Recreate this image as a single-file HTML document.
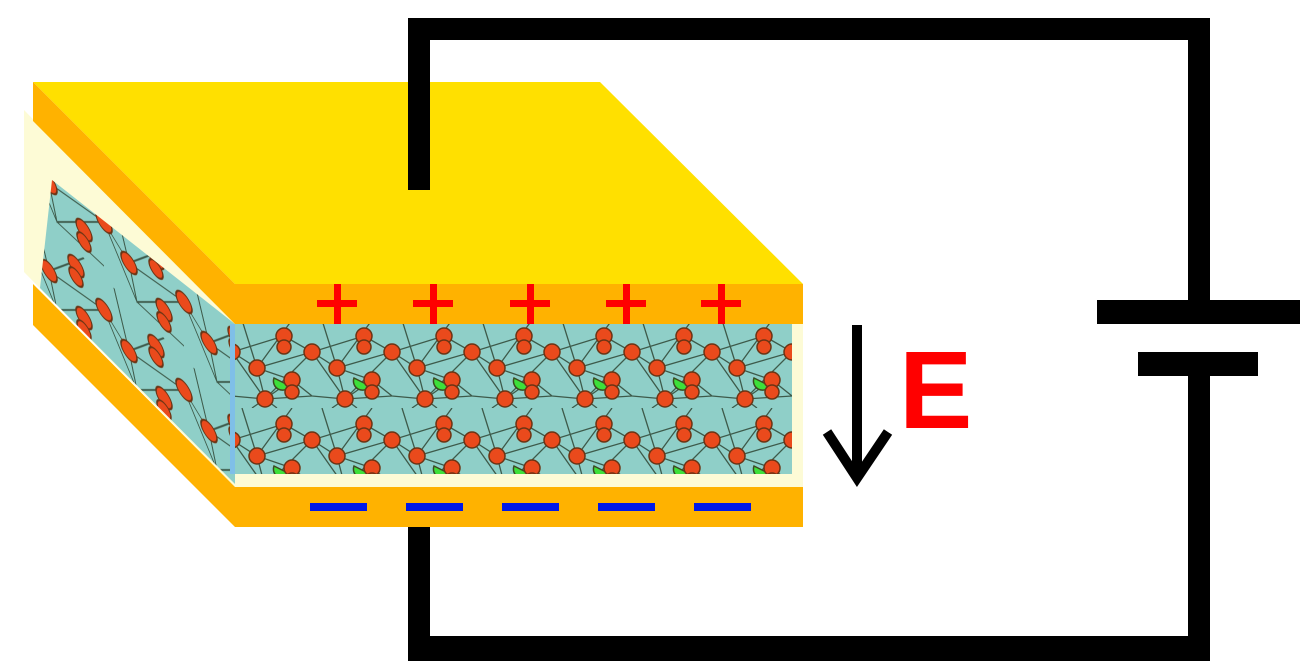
<!DOCTYPE html>
<html><head><meta charset="utf-8"><style>
html,body{margin:0;padding:0;background:#fff;width:1300px;height:661px;overflow:hidden}
</style></head><body>
<svg width="1300" height="661" viewBox="0 0 1300 661" xmlns="http://www.w3.org/2000/svg">
<defs>
<pattern id="lat" x="232" y="320" width="80" height="88" patternUnits="userSpaceOnUse">
  <rect width="80" height="88" fill="#8fcfc8"/>
  <g stroke="#3d5a4a" stroke-width="1.3" fill="none">
    <path d="M0,32 L25,48 L80,32 M25,48 L33,79 L80,32 M25,48 L0,32 M33,79 L0,32 M33,79 L80,76 M0,76 L33,79 M25,48 L10,0 M25,48 L60,0 M33,79 L45,88 M33,79 L20,88"/>
    <path d="M52,16 L80,32 M52,16 L0,32 M60,60 L80,76 M60,60 L33,79 M60,60 L25,48"/>
  </g>
  <path d="M42,58 a9,9 0 0 0 16,8 z" fill="#3de03a" stroke="#3a4a20" stroke-width="1.5"/>
  <g fill="#ea4a1c" stroke="#6b3414" stroke-width="1.5">
    <circle cx="80" cy="32" r="8"/><circle cx="0" cy="32" r="8"/>
    <circle cx="52" cy="16" r="8"/><circle cx="52" cy="27" r="7"/>
    <circle cx="25" cy="48" r="8"/>
    <circle cx="33" cy="79" r="8"/><circle cx="60" cy="60" r="8"/><circle cx="60" cy="72" r="7"/>
  </g>
</pattern>
<pattern id="lat2" x="0" y="0" width="80" height="88" patternUnits="userSpaceOnUse" patternTransform="translate(24,110) skewY(45)">
  <rect width="80" height="88" fill="#8fcfc8"/>
  <g stroke="#3d5a4a" stroke-width="1.3" fill="none">
    <path d="M0,32 L25,48 L80,32 M25,48 L33,79 L80,32 M33,79 L0,32 M33,79 L80,76 M25,48 L10,0 M25,48 L60,0"/>
  </g>
  <g fill="#ea4a1c" stroke="#6b3414" stroke-width="1.5">
    <circle cx="80" cy="32" r="8"/><circle cx="0" cy="32" r="8"/>
    <circle cx="52" cy="16" r="8"/><circle cx="52" cy="27" r="7"/>
    <circle cx="25" cy="48" r="8"/><circle cx="60" cy="60" r="8"/><circle cx="60" cy="72" r="7"/>
  </g>
</pattern>
</defs>

<polygon points="24,110 235,324 235,487 24,272" fill="#fdfbd6"/>
<polygon points="52,180 235,324 235,484 40,288" fill="url(#lat2)"/>
<rect x="235" y="324" width="568" height="163" fill="#fdfbd6"/>
<rect x="232" y="324" width="560" height="150" fill="url(#lat)"/>
<rect x="230" y="324" width="5" height="150" fill="#7fbfe8"/>

<polygon points="33,284 235,487 235,527 33,325" fill="#ffb200"/>
<rect x="235" y="487" width="568" height="40" fill="#ffb200"/>

<polygon points="33,82 600,82 803,284 235,284" fill="#ffe000"/>
<polygon points="33,82 235,284 235,324 33,121" fill="#ffb200"/>
<rect x="235" y="284" width="568" height="40" fill="#ffb200"/>

<g fill="#ff0000">
  <rect x="317" y="300" width="40" height="7"/><rect x="334" y="284" width="7" height="40"/>
  <rect x="413" y="300" width="40" height="7"/><rect x="430" y="284" width="7" height="40"/>
  <rect x="510" y="300" width="40" height="7"/><rect x="527" y="284" width="7" height="40"/>
  <rect x="606" y="300" width="40" height="7"/><rect x="623" y="284" width="7" height="40"/>
  <rect x="701" y="300" width="40" height="7"/><rect x="718" y="284" width="7" height="40"/>
</g>
<g fill="#0018e8">
  <rect x="310" y="503" width="57" height="8"/>
  <rect x="406" y="503" width="57" height="8"/>
  <rect x="502" y="503" width="57" height="8"/>
  <rect x="598" y="503" width="57" height="8"/>
  <rect x="694" y="503" width="57" height="8"/>
</g>

<g fill="#000">
  <rect x="408" y="18" width="22" height="172"/>
  <rect x="408" y="18" width="802" height="22"/>
  <rect x="1188" y="18" width="22" height="290"/>
  <rect x="1097" y="300" width="203" height="24"/>
  <rect x="1138" y="352" width="120" height="24"/>
  <rect x="1188" y="370" width="22" height="291"/>
  <rect x="408" y="636" width="802" height="25"/>
  <rect x="408" y="527" width="22" height="134"/>
</g>

<line x1="857" y1="325" x2="857" y2="478" stroke="#000" stroke-width="10"/>
<polyline points="827,432 857,478 888,432" fill="none" stroke="#000" stroke-width="10"/>
<text x="899" y="428" font-family="Liberation Sans, sans-serif" font-weight="bold" font-size="110" fill="#ff0000">E</text>
</svg>
</body></html>
